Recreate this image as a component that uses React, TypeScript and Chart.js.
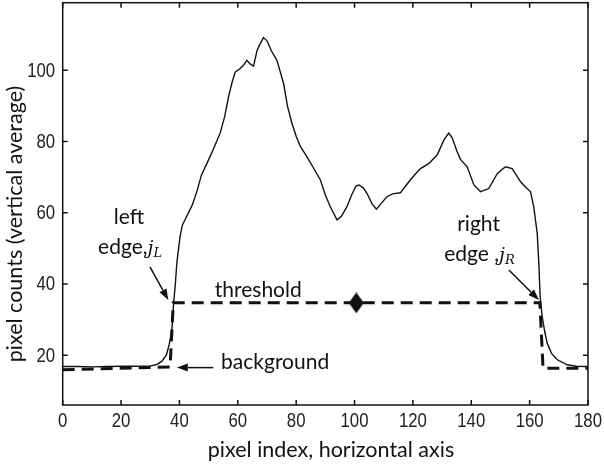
import React, { useEffect, useRef } from 'react';
import { Chart, registerables } from 'chart.js';
Chart.register(...registerables);

// Profile: pixel counts (vertical average) vs pixel index
const curveX = [0, 5, 10, 15, 20, 25, 30, 32, 34, 35.5, 36.5, 37.4, 38, 38.6, 39.1, 40.2, 41, 42.5, 44.3, 46, 47.5, 49.5, 51.7, 54, 55.5, 56.8, 58, 59.1, 60.8, 62, 63.1, 64.2, 65.4, 66.6, 67.7, 68.8, 70, 71.5, 73.4, 75.7, 77, 78.6, 80, 81.4, 83.7, 86, 88.3, 90, 91.7, 94, 95.5, 97.4, 99, 100.5, 101.5, 103, 104.3, 106, 107.5, 109, 111.1, 113, 115.7, 117.5, 119.1, 121, 122.6, 125.4, 128.3, 130.6, 132.3, 133.5, 135, 136.3, 138.6, 140.9, 143.2, 146, 148.9, 151.7, 154, 156.9, 158.5, 160.3, 161.4, 162.6, 163.2, 163.6, 164.3, 165.2, 166, 167.5, 169.5, 172.9, 176, 179.8];
const curveY = [16.8, 16.8, 16.7, 16.8, 16.9, 16.9, 17.0, 17.3, 18.3, 20, 23, 27, 34.6, 40, 45.8, 53.3, 56.5, 59, 62, 66, 70.5, 74, 78, 82.5, 87, 92.5, 96.5, 99.5, 100.5, 101.5, 102.8, 101.8, 101.2, 105.6, 107.5, 109.2, 108.3, 105.5, 102.8, 96.3, 90, 85, 81.5, 78.7, 75.7, 72.5, 69.2, 65, 61.7, 58, 59, 61.7, 65, 67.5, 67.8, 67, 65.4, 62.5, 61, 62.5, 64.5, 65.3, 65.6, 67.5, 69.2, 71, 72.4, 73.8, 76.2, 80.4, 82.4, 81, 77.5, 75, 72.9, 67.8, 65.9, 66.8, 71, 72.9, 72.4, 68.7, 67.3, 65.9, 61.7, 54.2, 45, 36.4, 30.8, 26.5, 23.4, 20.5, 18.7, 17.3, 16.9, 16.8];

// Thresholded step profile (dashed)
const stepX = [0, 36.8, 37.9, 163.5, 164.6, 180];
const stepY = [15.9, 16.7, 34.7, 34.7, 16.3, 16.3];

// Centre marker
const markerX = [100.6];
const markerY = [34.7];

const xTicks = [0, 20, 40, 60, 80, 100, 120, 140, 160, 180];
const yTicks = [20, 40, 60, 80, 100];

const xTitle = 'pixel index, horizontal axis';
const yTitle = 'pixel counts (vertical average)';

const INK = '#111';
const SANS = 'Lato, "Open Sans", sans-serif';
const TICKFONT = '19.5px "Liberation Sans", Arial, sans-serif';

// target plot-area box
const AREA = { left: 62.7, top: 2.7, right: 588, bottom: 405 };

function makeDiamond(w: number, h: number) {
  const c = document.createElement('canvas');
  c.width = w;
  c.height = h;
  const g = c.getContext('2d')!;
  g.fillStyle = '#111';
  g.beginPath();
  g.moveTo(w / 2, 0);
  g.lineTo(w, h / 2);
  g.lineTo(w / 2, h);
  g.lineTo(0, h / 2);
  g.closePath();
  g.fill();
  return c;
}

function arrow(ctx: CanvasRenderingContext2D, x1: number, y1: number, x2: number, y2: number) {
  const ang = Math.atan2(y2 - y1, x2 - x1);
  const L = 11, W = 4;
  ctx.beginPath();
  ctx.moveTo(x1, y1);
  ctx.lineTo(x2 - L * Math.cos(ang), y2 - L * Math.sin(ang));
  ctx.stroke();
  ctx.beginPath();
  ctx.moveTo(x2, y2);
  ctx.lineTo(x2 - L * Math.cos(ang) + W * Math.sin(ang), y2 - L * Math.sin(ang) - W * Math.cos(ang));
  ctx.lineTo(x2 - L * Math.cos(ang) - W * Math.sin(ang), y2 - L * Math.sin(ang) + W * Math.cos(ang));
  ctx.closePath();
  ctx.fill();
}

function edgeLabel(ctx: CanvasRenderingContext2D, cx: number, cy: number, prefix: string, sub: string) {
  const f1 = `21px ${SANS}`;
  const f2 = 'italic 19px "DejaVu Serif", "Liberation Serif", serif';
  const f3 = 'italic 13px "DejaVu Serif", "Liberation Serif", serif';
  ctx.font = f1; const w1 = ctx.measureText(prefix).width;
  ctx.font = f2; const w2 = ctx.measureText('j').width;
  ctx.font = f3; const w3 = ctx.measureText(sub).width;
  let x = cx - (w1 + w2 + w3) / 2;
  ctx.textAlign = 'left';
  ctx.textBaseline = 'alphabetic';
  const base = cy + 6;
  ctx.font = f1; ctx.fillText(prefix, x, base); x += w1;
  ctx.font = f2; ctx.fillText('j', x, base); x += w2;
  ctx.font = f3; ctx.fillText(sub, x, base + 3);
}

function narrowText(ctx: CanvasRenderingContext2D, s: string, x: number, y: number, align: 'center' | 'right') {
  const k = 0.86;
  ctx.save();
  ctx.translate(x, y);
  ctx.scale(k, 1);
  ctx.textAlign = align;
  ctx.textBaseline = 'middle';
  ctx.font = TICKFONT;
  ctx.fillText(s, 0, 0);
  ctx.restore();
}

const decor = {
  id: 'decor',
  afterDraw(chart: any) {
    const { ctx, chartArea: a, scales } = chart;
    const x = scales.x, y = scales.y;
    const X = (v: number) => x.getPixelForValue(v);
    const Y = (v: number) => y.getPixelForValue(v);
    ctx.save();
    ctx.strokeStyle = INK;
    ctx.fillStyle = INK;
    ctx.lineWidth = 1.5;
    ctx.strokeRect(a.left, a.top, a.right - a.left, a.bottom - a.top);
    const tl = 5;
    ctx.beginPath();
    xTicks.forEach((v) => {
      const px = X(v);
      ctx.moveTo(px, a.bottom); ctx.lineTo(px, a.bottom - tl);
      ctx.moveTo(px, a.top); ctx.lineTo(px, a.top + tl);
    });
    yTicks.forEach((v) => {
      const py = Y(v);
      ctx.moveTo(a.left, py); ctx.lineTo(a.left + tl, py);
      ctx.moveTo(a.right, py); ctx.lineTo(a.right - tl, py);
    });
    ctx.stroke();

    // tick labels
    ctx.fillStyle = '#222';
    xTicks.forEach((v) => narrowText(ctx, String(v), X(v), a.bottom + 17, 'center'));
    yTicks.forEach((v) => narrowText(ctx, String(v), a.left - 7.5, Y(v) + 1, 'right'));

    // annotations
    ctx.fillStyle = INK;
    ctx.font = `21px ${SANS}`;
    ctx.textAlign = 'center';
    ctx.textBaseline = 'middle';
    ctx.fillText('left', X(22.7), Y(58.8));
    ctx.fillText('threshold', X(67), Y(38.3));
    ctx.fillText('background', X(72.8), Y(17.9));
    ctx.fillText('right', X(142.5), Y(56.8));
    edgeLabel(ctx, X(23.1), Y(50.1), 'edge,', 'L');
    edgeLabel(ctx, X(142.8), Y(48.1), 'edge ,', 'R');

    ctx.lineWidth = 1.5;
    arrow(ctx, X(29.9), Y(44.8), X(36.2), Y(35.5));
    arrow(ctx, X(152.9), Y(43.9), X(163.2), Y(35.5));
    arrow(ctx, X(51.6), Y(16.5), X(39.1), Y(16.5));

    // axis titles
    ctx.font = `21.5px ${SANS}`;
    ctx.textAlign = 'center';
    ctx.textBaseline = 'middle';
    ctx.fillText(xTitle, 331, 450);
    ctx.translate(15, 224);
    ctx.rotate(-Math.PI / 2);
    ctx.fillText(yTitle, 0, 0);
    ctx.restore();
  },
};

const zeroPad = (s: any) => {
  s.paddingLeft = 0; s.paddingRight = 0; s.paddingTop = 0; s.paddingBottom = 0;
};

export default function App() {
  const ref = useRef<HTMLCanvasElement>(null);
  useEffect(() => {
    const diamond = makeDiamond(15, 21);
    const chart = new Chart(ref.current!, {
      type: 'line',
      data: {
        datasets: [
          {
            data: curveX.map((v, i) => ({ x: v, y: curveY[i] })),
            borderColor: INK,
            borderWidth: 1.4,
            pointRadius: 0,
            tension: 0,
          },
          {
            data: stepX.map((v, i) => ({ x: v, y: stepY[i] })),
            borderColor: '#111',
            borderWidth: 3,
            borderDash: [12, 7],
            pointRadius: 0,
            tension: 0,
          },
          {
            data: markerX.map((v, i) => ({ x: v, y: markerY[i] })),
            showLine: false,
            pointStyle: diamond as any,
            pointRadius: 8,
          },
        ],
      },
      options: {
        animation: false,
        responsive: true,
        maintainAspectRatio: false,
        layout: { autoPadding: false, padding: { top: AREA.top, right: 604 - AREA.right, left: 0, bottom: 0 } },
        plugins: { legend: { display: false }, tooltip: { enabled: false } },
        scales: {
          x: {
            type: 'linear',
            min: 0,
            max: 180,
            afterBuildTicks: (s: any) => { s.ticks = xTicks.map((v) => ({ value: v })); },
            afterFit: (s: any) => { s.height = 466 - AREA.bottom; zeroPad(s); },
            grid: { display: false, drawTicks: false },
            border: { display: false },
            ticks: { display: false },
          },
          y: {
            type: 'linear',
            min: 6,
            max: 119,
            afterBuildTicks: (s: any) => { s.ticks = yTicks.map((v) => ({ value: v })); },
            afterFit: (s: any) => { s.width = AREA.left; zeroPad(s); },
            grid: { display: false, drawTicks: false },
            border: { display: false },
            ticks: { display: false },
          },
        },
      },
      plugins: [decor],
    });
    return () => chart.destroy();
  }, []);
  return (
    <div style={{ position: 'fixed', left: 0, top: 0, width: 604, height: 466, background: '#fff' }}>
      <canvas ref={ref} />
    </div>
  );
}
